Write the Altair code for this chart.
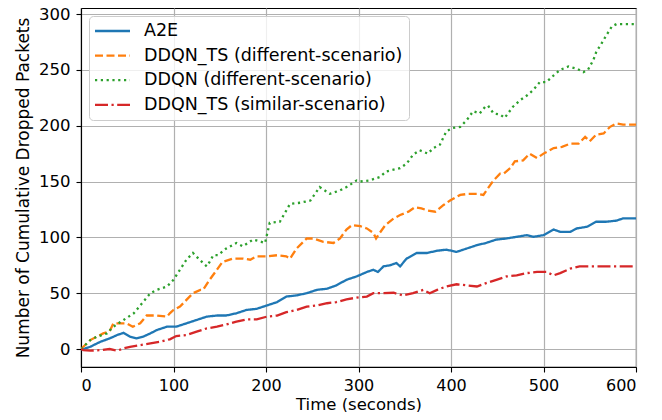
import altair as alt
import pandas as pd

series = ["A2E", "DDQN_TS (different-scenario)", "DDQN (different-scenario)", "DDQN_TS (similar-scenario)"]
colors = ["#1f77b4", "#ff7f0e", "#2ca02c", "#d62728"]
dashes = [[1, 0], [8, 3.5], [2.2, 3.6], [13, 3.5, 2.2, 3.5]]

a2e_t = [0, 2.5, 10, 21, 31, 39, 46, 53, 60, 67, 75, 82, 93, 103, 114, 125, 136, 147, 157, 168, 179, 190, 201, 212,
         222, 233, 244, 255, 266, 276, 287, 298, 309, 316, 321, 327, 334, 341, 345, 352, 363, 374, 385, 395, 406, 417,
         428, 438, 449, 460, 471, 482, 489, 500, 511, 518, 529, 536, 547, 557, 568, 579, 586, 600]
a2e_v = [0, 0, 2, 6.5, 9.5, 12.5, 14.5, 11, 9.5, 11, 14, 17, 20, 20, 23, 26, 29, 30, 30, 32, 35, 36, 39, 42,
         47, 48, 50, 53, 54, 57, 62, 65, 69, 71, 69, 74, 75, 77, 74, 81, 86, 86, 88, 89, 87, 90,
         93, 95, 98, 99, 100.5, 102, 100.5, 102, 107, 105, 105, 108, 109.5, 114, 114, 115, 117, 117]

tsd_t = [0, 2.5, 10, 17, 24, 31, 35, 42, 49, 56, 64, 71, 82, 93, 96, 100, 107, 114, 121, 129, 132, 139, 147, 153,
         164, 175, 183, 190, 201, 212, 222, 226, 233, 244, 251, 262, 273, 280, 287, 293, 302, 309, 316, 319, 323,
         329, 338, 345, 354, 361, 368, 375, 383, 392, 399, 410, 419, 428, 435, 440, 446, 453, 457, 464, 469, 478,
         485, 493, 500, 511, 520, 529, 538, 545, 550, 557, 565, 572, 579, 586, 600]
tsd_v = [0, 2, 8, 11, 14, 16, 23, 23, 23, 20, 23, 30, 30, 29, 32, 35, 38, 44, 50, 53, 53, 62, 71, 78,
         81, 81, 80, 83, 83, 84, 83, 81, 90, 99, 99, 96, 95, 99, 107, 111, 110, 108, 104, 99, 104,
         111, 117, 120, 123, 127, 126, 124, 123, 129, 133, 138, 139, 139, 138, 144, 151, 157, 157, 162, 168, 169,
         175, 171, 175, 180, 181, 184, 184, 190, 186, 192, 193, 199, 202, 201, 201]

dq_t = [0, 2.5, 10, 17, 28, 35, 46, 57, 64, 75, 82, 93, 100, 107, 114, 121, 127, 132, 136, 139, 143, 148, 157, 168,
        175, 186, 195, 199, 204, 215, 226, 237, 248, 258, 269, 280, 287, 298, 302, 312, 323, 330, 345, 352, 359,
        366, 375, 381, 388, 395, 402, 410, 417, 424, 431, 437, 440, 446, 453, 458, 467, 475, 482, 489, 496, 503,
        511, 518, 527, 536, 543, 548, 554, 557, 563, 568, 574, 579, 600]
dq_v = [0, 2, 8, 11, 14, 20, 26, 32, 39, 50, 53, 56, 62, 71, 80, 86, 81, 77, 74, 78, 84, 84, 90, 95,
        92, 98, 96, 95, 113, 114, 130, 131, 133, 145, 139, 142, 145, 151, 150, 151, 154, 159, 162, 166, 174,
        178, 175, 180, 183, 195, 198, 199, 205, 213, 211, 217, 218, 211, 210, 207, 217, 223, 227, 232, 239, 239,
        245, 250, 253, 251, 248, 250, 259, 266, 274, 281, 289, 291, 291]

tss_t = [0, 2.5, 10, 21, 31, 39, 46, 53, 64, 75, 85, 96, 103, 114, 125, 136, 147, 157, 168, 179, 190, 201, 212,
         222, 233, 244, 255, 266, 276, 287, 298, 309, 316, 327, 338, 348, 359, 370, 377, 385, 395, 406, 417, 428,
         438, 449, 460, 471, 482, 493, 503, 511, 518, 529, 539, 554, 600]
tss_v = [0, -1, -1.5, -1, 0, -1.5, 0.5, 2, 3.5, 5, 6.5, 8.7, 11.6, 12.5, 15.5, 18.5, 20, 22, 24.5, 26.6, 26.6, 29, 30,
         33, 35, 38, 39, 41, 42, 44.5, 46, 47, 50, 50, 50.4, 48, 50, 53, 50, 53, 56, 58, 57, 56,
         59, 62, 65, 66, 68, 69, 69, 66, 68, 72, 74, 74, 74]

rows = []
for name, ts, vs in zip(series, [a2e_t, tsd_t, dq_t, tss_t], [a2e_v, tsd_v, dq_v, tss_v]):
    for i, (t, v) in enumerate(zip(ts, vs)):
        rows.append({"series": name, "t": t, "v": v, "order": i})
df = pd.DataFrame(rows)

FONT = "DejaVu Sans"

chart = alt.Chart(df).mark_line(strokeWidth=2.3, clip=True).encode(
    x=alt.X("t:Q", scale=alt.Scale(domain=[0, 600], nice=False, zero=False),
            axis=alt.Axis(values=list(range(0, 601, 100)), title="Time (seconds)")),
    y=alt.Y("v:Q", scale=alt.Scale(domain=[-16.1, 305.4], nice=False, zero=False),
            axis=alt.Axis(values=list(range(0, 301, 50)), title="Number of Cumulative Dropped Packets")),
    color=alt.Color("series:N", scale=alt.Scale(domain=series, range=colors), legend=alt.Legend(title=None)),
    strokeDash=alt.StrokeDash("series:N", scale=alt.Scale(domain=series, range=dashes), legend=alt.Legend(title=None)),
    order="order:Q",
).properties(
    width=555, height=359,
    autosize=alt.AutoSizeParams(type="none"),
    padding={"left": 73, "top": 0, "right": 18, "bottom": 45},
    background="white",
).configure_view(
    stroke="black", strokeWidth=1.1
).configure_axis(
    labelFont=FONT, labelFontSize=16.5, labelColor="black",
    titleFont=FONT, titleFontSize=17, titleFontWeight="normal", titleColor="black",
    grid=True, gridColor="#b0b0b0", gridWidth=1.2,
    domainColor="black", domainWidth=1.1,
    tickColor="black", tickWidth=1.1, tickSize=5, labelPadding=6,
).configure_axisX(
    labelFontSize=16, labelPadding=5, titleFontSize=16.5, titlePadding=3,
).configure_axisY(
    titlePadding=6,
).configure_legend(
    orient="none", legendX=8, legendY=8,
    padding=6, strokeColor="#cccccc", fillColor="rgba(255,255,255,0.8)", cornerRadius=4,
    symbolType="M-2.333,0H2.333", symbolSize=225, symbolStrokeWidth=2.3, symbolOffset=8.5,
    labelFont=FONT, labelFontSize=17.5, labelColor="black", labelLimit=400, labelOffset=22.5,
    rowPadding=6.6,
)

chart.save("out.html", embed_options={"renderer": "svg", "actions": False})
